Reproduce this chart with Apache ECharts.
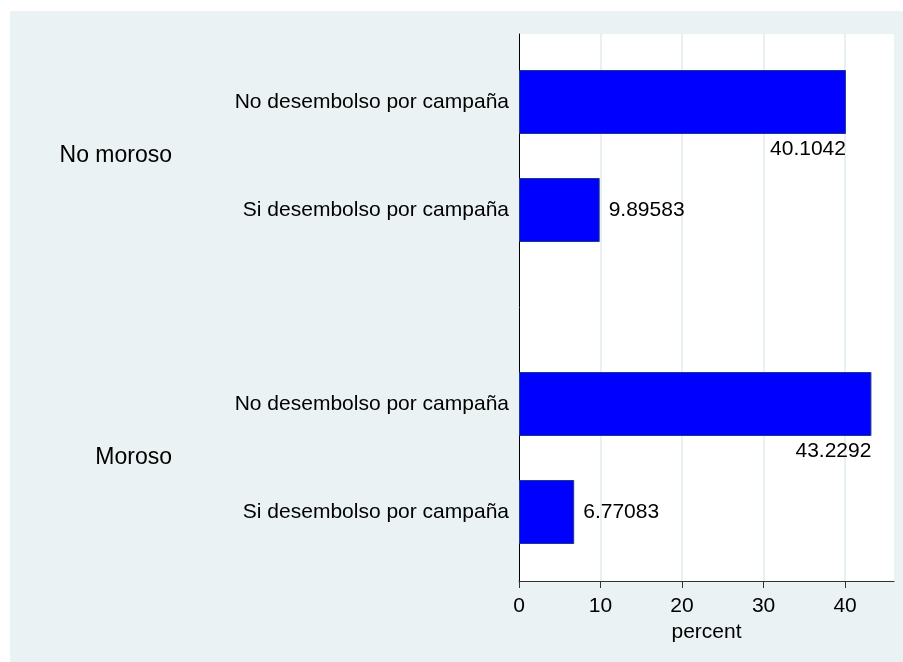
<!DOCTYPE html>
<html>
<head>
<meta charset="utf-8">
<script src="https://cdn.jsdelivr.net/npm/echarts@6/dist/echarts.min.js"></script>
<style>
  html, body { margin: 0; padding: 0; background: #ffffff; }
  #chart { width: 903px; height: 662px; }
</style>
</head>
<body>
<div id="chart"></div>
<script>
var groups = ['No moroso', 'Moroso'];
var categories = ['No desembolso por campaña', 'Si desembolso por campaña'];
var noMorosoValues = [40.1042, 9.89583];
var morosoValues = [43.2292, 6.77083];
var tickValues = [0, 10, 20, 30, 40];
var axisTitle = 'percent';

var chartDom = document.getElementById('chart');
var myChart = echarts.init(chartDom);
var font = "'Liberation Sans', Arial, sans-serif";

// long bars get the label under the bar end, short ones to the right
function barData(values) {
  return values.map(function (v) {
    if (v > 20) {
      return {
        value: v,
        label: {
          position: ['100%', '100%'],
          align: 'right',
          verticalAlign: 'top',
          offset: [0, 5]
        }
      };
    }
    return { value: v, label: { position: 'right', distance: 9 } };
  });
}

function barGrid(top) {
  return { left: 519, right: 9, top: top, height: 216 };
}

var option = {
  animation: false,
  textStyle: { fontFamily: font },
  graphic: [
    {
      type: 'rect',
      z: -10,
      shape: { x: 10, y: 11, width: 893, height: 651 },
      style: { fill: '#eaf2f3' }
    },
    {
      type: 'rect',
      z: -9,
      shape: { x: 519, y: 34, width: 375, height: 547 },
      style: { fill: '#ffffff' }
    }
  ],
  grid: [
    { left: 519, right: 9, top: 34, bottom: 81 },
    barGrid(48),
    barGrid(350)
  ],
  xAxis: [
    {
      gridIndex: 0,
      type: 'value',
      min: 0,
      max: 46,
      interval: 10,
      name: axisTitle,
      nameLocation: 'middle',
      nameGap: 35,
      nameTextStyle: { fontSize: 21, color: '#000', fontFamily: font },
      axisLine: { show: true, lineStyle: { color: '#333', width: 1 } },
      axisTick: {
        show: true,
        length: 7,
        customValues: tickValues,
        lineStyle: { color: '#333' }
      },
      axisLabel: {
        customValues: tickValues,
        margin: 15,
        fontSize: 21,
        color: '#000',
        fontFamily: font
      },
      splitLine: { show: true, lineStyle: { color: '#e8f0f2', width: 2 } }
    },
    { gridIndex: 1, type: 'value', min: 0, max: 46, show: false },
    { gridIndex: 2, type: 'value', min: 0, max: 46, show: false }
  ],
  yAxis: [
    {
      gridIndex: 0,
      type: 'value',
      min: 0,
      max: 1,
      axisLine: { show: true, lineStyle: { color: '#000', width: 1 } },
      axisTick: { show: false },
      axisLabel: { show: false },
      splitLine: { show: false }
    }
  ].concat(groups.map(function (g, i) {
    return {
      gridIndex: i + 1,
      type: 'category',
      inverse: true,
      data: categories,
      name: g,
      nameLocation: 'middle',
      nameRotate: 0,
      nameGap: 347,
      nameTextStyle: {
        fontSize: 23,
        color: '#000',
        fontFamily: font,
        padding: [6, 0, 0, 0]
      },
      axisLine: { show: false },
      axisTick: { show: false },
      axisLabel: { margin: 10, fontSize: 21, color: '#000', fontFamily: font },
      splitLine: { show: false }
    };
  })),
  series: [noMorosoValues, morosoValues].map(function (vals, i) {
    return {
      type: 'bar',
      name: groups[i],
      xAxisIndex: i + 1,
      yAxisIndex: i + 1,
      barWidth: 64,
      data: barData(vals),
      itemStyle: { color: '#0000ff', borderColor: '#1a3a8a', borderWidth: 1 },
      label: {
        show: true,
        fontSize: 21,
        color: '#000',
        fontFamily: font,
        formatter: function (p) { return String(p.value); }
      }
    };
  })
};

option && myChart.setOption(option);
</script>
</body>
</html>
